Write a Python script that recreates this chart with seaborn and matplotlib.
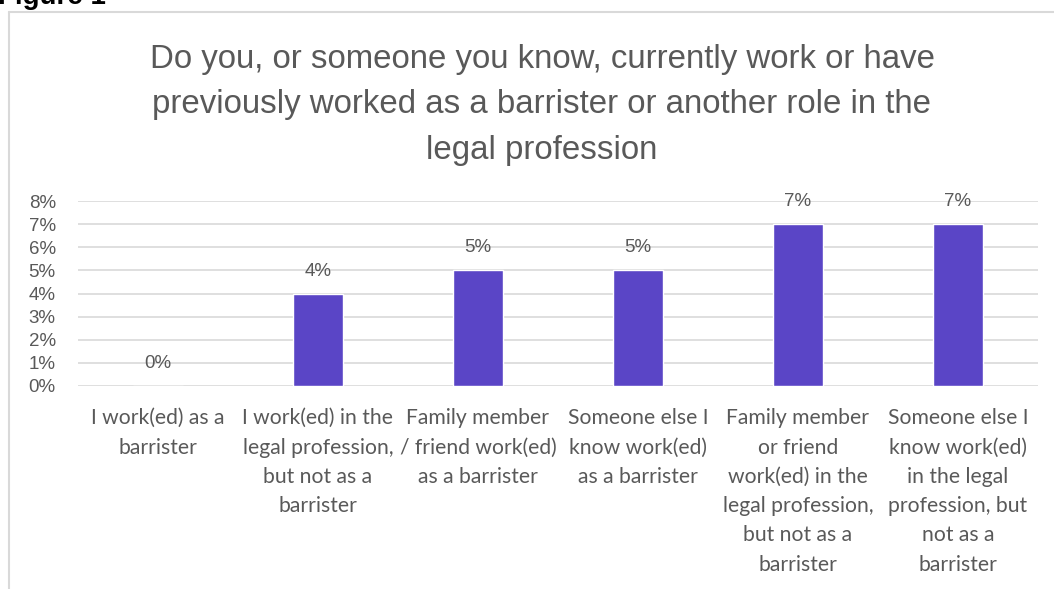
import matplotlib
matplotlib.use("Agg")
import matplotlib.pyplot as plt
import seaborn as sns
import pandas as pd
from matplotlib.ticker import FuncFormatter
from matplotlib.lines import Line2D

categories = [
    "I work(ed) as a\nbarrister",
    "I work(ed) in the\nlegal profession,\nbut not as a\nbarrister",
    "Family member\n/ friend work(ed)\nas a barrister",
    "Someone else I\nknow work(ed)\nas a barrister",
    "Family member\nor friend\nwork(ed) in the\nlegal profession,\nbut not as a\nbarrister",
    "Someone else I\nknow work(ed)\nin the legal\nprofession, but\nnot as a\nbarrister",
]
values = [0.00, 0.04, 0.05, 0.05, 0.07, 0.07]
yticks = [0.00, 0.01, 0.02, 0.03, 0.04, 0.05, 0.06, 0.07, 0.08]
title = ("Do you, or someone you know, currently work or have\n"
         "previously worked as a barrister or another role in the\n"
         "legal profession")

sns.set_theme(style="white")
plt.rcParams["font.family"] = ["Lato", "DejaVu Sans"]

W, H = 1054, 589
fig = plt.figure(figsize=(W / 100, H / 100), dpi=100)
ax = fig.add_axes([78 / W, 203 / H, 960 / W, 185 / H])

df = pd.DataFrame({"cat": categories, "val": values})
sns.barplot(data=df, x="cat", y="val", color="#5A45C6", saturation=1,
            width=0.31, ax=ax)

ax.set_ylim(0, 0.08)
ax.set_yticks(yticks)
ax.yaxis.set_major_formatter(FuncFormatter(lambda v, p: f"{v*100:.0f}%"))
ax.grid(axis="y", color="#d9d9d9", linewidth=1.2)
ax.set_axisbelow(True)
for s in ax.spines.values():
    s.set_visible(False)
ax.set_xlabel("")
ax.set_ylabel("")
ax.tick_params(axis="x", length=0, pad=16, labelsize=15.2, labelcolor="#595959")
ax.tick_params(axis="y", length=0, pad=16, labelsize=13.5, labelcolor="#595959")
for lab in ax.get_xticklabels():
    lab.set_linespacing(1.58)
for lab in ax.get_yticklabels():
    lab.set_family(["Liberation Sans", "DejaVu Sans"])

for i, v in enumerate(values):
    ax.annotate(f"{v*100:.0f}%", (i, v), xytext=(0, 10), textcoords="offset points",
                ha="center", va="bottom", fontsize=13.5, color="#595959",
                family=["Liberation Sans", "DejaVu Sans"], annotation_clip=False)

fig.text(542 / W, 1 - 44 / H, title, ha="center", va="top", fontsize=23.8,
         color="#595959", linespacing=1.6, family=["Liberation Sans", "DejaVu Sans"])

# chart border (partially visible)
fig.add_artist(Line2D([8.5 / W, 8.5 / W], [0, 1 - 12 / H], color="#d9d9d9", lw=1.5,
                      transform=fig.transFigure))
fig.add_artist(Line2D([8.5 / W, 1], [1 - 12 / H, 1 - 12 / H], color="#d9d9d9", lw=1.5,
                      transform=fig.transFigure))

fig.text(-2 / W, 1 - 4 / H, "Figure 1", ha="left", va="baseline", fontsize=20,
         fontweight="bold", color="black", family=["Liberation Sans", "DejaVu Sans"])

fig.savefig("out.png", dpi=100)
